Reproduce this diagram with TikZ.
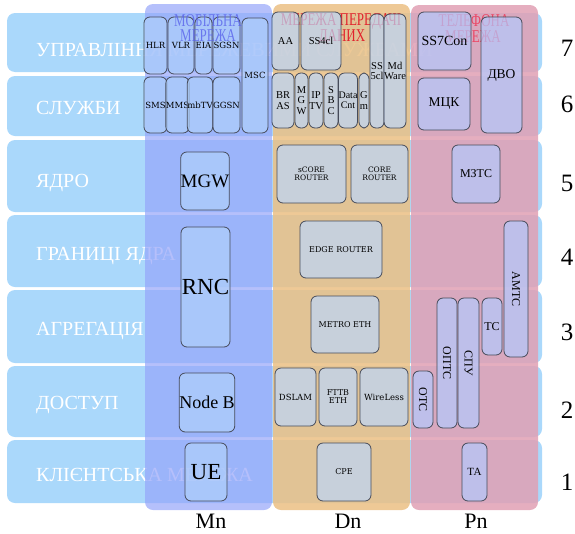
\documentclass[tikz,border=0pt]{standalone}
\usepackage{fontspec}
\setmainfont{Liberation Serif}
\newfontfamily\dvs{DejaVu Serif}
\newfontfamily\condfont[FakeStretch=0.72]{Liberation Serif}
\definecolor{rowblue}{RGB}{170,216,251}
\definecolor{mcol}{RGB}{150,165,250}
\definecolor{dcol}{RGB}{235,192,132}
\definecolor{pcol}{RGB}{225,160,180}
\definecolor{mfill}{RGB}{176,208,250}
\definecolor{dfill}{RGB}{189,214,250}
\definecolor{pfill}{RGB}{179,202,254}
\definecolor{boxline}{RGB}{70,75,90}
\definecolor{mtitle}{RGB}{90,100,235}
\definecolor{dtitle}{RGB}{225,35,45}
\definecolor{ptitle}{RGB}{235,70,100}
\newcommand\mybox[7]{\node[#2, minimum width={(#5)-(#3)}, minimum height={(#6)-(#4)}] (#1) at ({((#3)+(#5))/2},{((#4)+(#6))/2}) {#7};}
\tikzset{
  fsz/.style={font=\fontsize{#1}{#1}\selectfont},
  dv/.style={font=\dvs\fontsize{#1}{#1}\selectfont},
  layer/.style={fill=rowblue, rounded corners=8pt},
  rowtxt/.style={anchor=west, text=white, inner sep=0pt, fsz=20},
  column/.style={rounded corners=8pt, fill opacity=#1},
  ttl/.style={inner sep=0pt, font=\condfont\fontsize{18}{18}\selectfont},
  bx/.style={draw=boxline, line width=0.8pt, rounded corners=6pt, inner sep=0pt, align=center, fill opacity=0.7, text opacity=1},
  mb/.style={bx, fill=mfill},
  db/.style={bx, fill=dfill},
  pb/.style={bx, fill=pfill},
  numlbl/.style={inner sep=0pt, fsz=25},
  collbl/.style={inner sep=0pt, fsz=22},
}
\begin{document}
\begin{tikzpicture}[x=1pt,y=-1pt]
\useasboundingbox (0,0) rectangle (575,533);
% layers
\fill[layer] (7,13) rectangle (542,72);
\fill[layer] (7,76) rectangle (542,136);
\fill[layer] (7,140) rectangle (542,212);
\fill[layer] (7,215) rectangle (542,287);
\fill[layer] (7,290) rectangle (542,363);
\fill[layer] (7,366) rectangle (542,437);
\fill[layer] (7,440) rectangle (542,503);
\node[rowtxt] (r7) at (36,50) {УПРАВЛІННЯ МЕРЕЖЕВИМИ СЛУЖБАМИ};
\node[rowtxt] (r6) at (36,108) {СЛУЖБИ};
\node[rowtxt] (r5) at (36,183) {ЯДРО};
\node[rowtxt] (r4) at (36,256) {ГРАНИЦІ ЯДРА};
\node[rowtxt] (r3) at (36,331) {АГРЕГАЦІЯ};
\node[rowtxt] (r2) at (36,405) {ДОСТУП};
\node[rowtxt] (r1) at (36,475) {КЛІЄНТСЬКА МЕРЕЖА};
% columns
\fill[column=0.7, mcol] (145,4) rectangle (272,510);
\fill[column=0.85, dcol] (273,4) rectangle (410,510);
\fill[column=0.85, pcol] (411,5) rectangle (538,510);
% titles under the boxes
\node[ttl, text=dtitle] (dt1) at (341,21) {МЕРЕЖА ПЕРЕДАЧІ};
\node[ttl, text=dtitle] (dt2) at (342,37) {ДАНИХ};
\node[ttl, text=ptitle] (pt1) at (474,21) {ТЕЛЕФОНА};
\node[ttl, text=ptitle] (pt2) at (473,37) {МЕРЕЖА};
% mobile network
\mybox{hlr}{mb,dv=8.5}{144}{17}{167}{74}{HLR}
\mybox{vlr}{mb,dv=8.5}{168}{17}{194}{74}{VLR}
\mybox{eia}{mb,dv=8.5}{195}{17}{212}{74}{EIA}
\mybox{sgsn}{mb,dv=8.5}{213}{17}{240}{74}{SGSN}
\mybox{sms}{mb,dv=8.5}{144}{77}{167}{133}{SMS}
\mybox{mms}{mb,dv=8.5}{168}{77}{187}{133}{MMS}
\mybox{mbtv}{mb,dv=8.5}{188}{77}{212}{133}{mbTV}
\mybox{ggsn}{mb,dv=8.5}{213}{77}{240}{133}{GGSN}
\mybox{msc}{mb,dv=8.5}{242}{18}{268}{133}{MSC}
\mybox{mgw}{mb,fsz=19}{181}{152}{229}{210}{MGW}
\mybox{rnc}{mb,fsz=23}{181}{227}{230}{347}{RNC}
\mybox{nodeb}{mb,fsz=18}{180}{373}{234}{432}{Node B}
\mybox{ue}{mb,fsz=23}{185}{443}{227}{501}{UE}
% mobile title over the boxes
\node[ttl, text=mtitle, text opacity=0.8] (mt1) at (208,21) {МОБІЛЬНА};
\node[ttl, text=mtitle, text opacity=0.8] (mt2) at (208,36) {МЕРЕЖА};
% data network
\mybox{aa}{db,fsz=10.5}{272}{12}{299}{70}{AA}
\mybox{ssfour}{db,fsz=10.5}{301}{12}{341}{70}{SS4cl}
\mybox{ssfive}{db,fsz=10.5}{370}{14}{384}{128}{SS\\5cl}
\mybox{mdware}{db,fsz=10.5}{385}{14}{405}{128}{Md\\Ware}
\mybox{bras}{db,fsz=10.5}{272}{73}{294}{128}{BR\\AS}
\mybox{mgwd}{db,fsz=10.5}{295}{73}{308}{128}{M\\G\\W}
\mybox{iptv}{db,fsz=10.5}{309}{73}{323}{128}{IP\\TV}
\mybox{sbc}{db,fsz=10.5}{324}{73}{338}{128}{S\\B\\C}
\mybox{datacnt}{db,fsz=10}{339}{73}{357}{128}{Data\\Cnt}
\mybox{gm}{db,fsz=10.5}{359}{73}{369}{128}{G\\m}
\mybox{score}{db,dv=7.5}{277}{145}{346}{203}{sCORE\\ROUTER}
\mybox{core}{db,dv=7.5}{351}{145}{408}{203}{CORE\\ROUTER}
\mybox{edge}{db,dv=8}{300}{221}{382}{278}{EDGE ROUTER}
\mybox{metro}{db,dv=8}{311}{296}{379}{353}{METRO ETH}
\mybox{dslam}{db,dv=8.5}{275}{368}{316}{426}{DSLAM}
\mybox{fttb}{db,dv=8}{319}{368}{357}{426}{FTTB\\ETH}
\mybox{wireless}{db,dv=8.5}{360}{368}{408}{426}{WireLess}
\mybox{cpe}{db,dv=8}{317}{443}{371}{501}{CPE}
% phone network
\mybox{ssseven}{pb,fsz=14}{418}{12}{471}{70}{SS7Con}
\mybox{dvo}{pb,fsz=13.5}{481}{17}{522}{133}{ДВО}
\mybox{mck}{pb,fsz=13.5}{418}{78}{470}{130}{МЦК}
\mybox{mztc}{pb,fsz=12}{452}{145}{500}{203}{МЗТС}
\node[pb, fsz=12, rotate=-90, minimum width=136, minimum height=24] (amtc) at (516,289) {АМТС};
\mybox{tc}{pb,fsz=12}{482}{298}{502}{355}{ТС}
\node[pb, fsz=12, rotate=-90, minimum width=130, minimum height=21] (spu) at (468.5,363) {СПУ};
\node[pb, fsz=12, rotate=-90, minimum width=130, minimum height=20] (optc) at (447,363) {ОПТС};
\node[pb, fsz=12, rotate=-90, minimum width=57, minimum height=20] (otc) at (423,399.5) {ОТС};
\mybox{ta}{pb,fsz=11}{462}{443}{487}{501}{ТА}
% numbers
\node[numlbl] (n7) at (567,48) {7};
\node[numlbl] (n6) at (567,104) {6};
\node[numlbl] (n5) at (567,183) {5};
\node[numlbl] (n4) at (567,257) {4};
\node[numlbl] (n3) at (567,332) {3};
\node[numlbl] (n2) at (567,410) {2};
\node[numlbl] (n1) at (567,482) {1};
% column labels
\node[collbl] (lmn) at (211,521) {Mn};
\node[collbl] (ldn) at (348,521) {Dn};
\node[collbl] (lpn) at (476,521) {Pn};
\end{tikzpicture}
\end{document}
